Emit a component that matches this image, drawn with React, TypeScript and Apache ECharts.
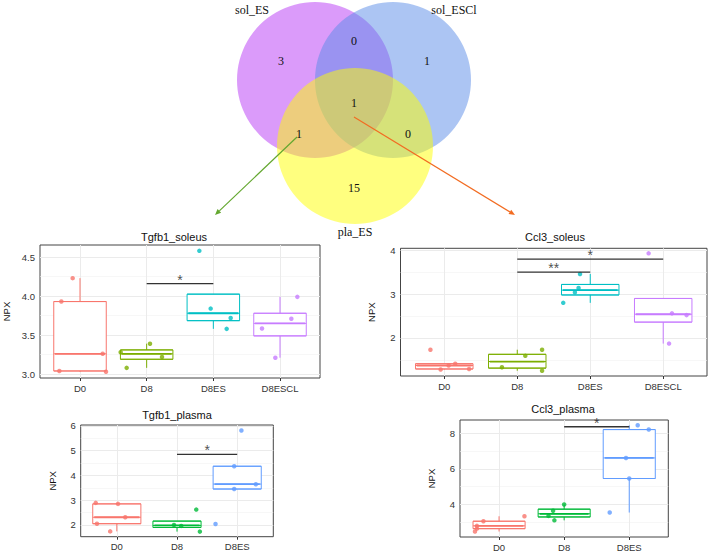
import React, { useEffect, useRef } from 'react';
import * as echarts from 'echarts';

// ---------- Venn data ----------
const VENN_SETS = ['sol_ES', 'sol_ESCl', 'pla_ES'];
// regions: ES only, ES∩ESCl, ESCl only, all three, ES∩pla, ESCl∩pla, pla only
const VENN_COUNTS = ['3', '0', '1', '1', '1', '0', '15'];

// ---------- Box plot data ----------
const CATS4 = ['D0', 'D8', 'D8ES', 'D8ESCL'];
const CATS3 = ['D0', 'D8', 'D8ES'];
const COLORS4 = ['#F8766D', '#7CAE00', '#00BFC4', '#C77CFF'];
const COLORS3 = ['#F8766D', '#00BA38', '#619CFF'];

// [min, Q1, median, Q3, max]
const TGFB1_SOL_BOX = [
  [3.03, 3.04, 3.26, 3.93, 4.23],
  [3.08, 3.19, 3.26, 3.31, 3.39],
  [3.58, 3.685, 3.78, 4.025, 4.025],
  [3.21, 3.49, 3.65, 3.78, 3.99],
];
const TGFB1_SOL_PTS = [
  [4.23, 3.93, 3.26, 3.04, 3.03],
  [3.39, 3.28, 3.22, 3.08],
  [4.58, 3.84, 3.72, 3.58],
  [3.99, 3.71, 3.585, 3.21],
];
const TGFB1_SOL_JIT = [
  [-0.11, -0.28, 0.34, -0.31, 0.39],
  [0.05, -0.39, 0.23, -0.3],
  [-0.21, -0.04, 0.26, 0.2],
  [0.26, 0.17, -0.27, -0.07],
];
const TGFB1_SOL_SIG = [[1, 2, 4.16]];
const TGFB1_SOL_SIG_TXT = ['*'];

const CCL3_SOL_BOX = [
  [1.28, 1.29, 1.37, 1.41, 1.41],
  [1.25, 1.31, 1.46, 1.625, 1.73],
  [2.8, 2.98, 3.09, 3.22, 3.46],
  [1.87, 2.36, 2.54, 2.9, 2.9],
];
const CCL3_SOL_PTS = [
  [1.73, 1.41, 1.37, 1.28, 1.29],
  [1.73, 1.59, 1.33, 1.25],
  [3.46, 3.14, 3.04, 2.8],
  [3.93, 2.56, 2.52, 1.87],
];
const CCL3_SOL_JIT = [
  [-0.19, 0.15, 0.06, -0.05, 0.34],
  [0.34, 0.11, -0.21, 0.34],
  [-0.14, -0.16, -0.21, -0.37],
  [-0.2, 0.12, 0.32, 0.08],
];
const CCL3_SOL_SIG = [[1, 2, 3.5], [1, 3, 3.8]];
const CCL3_SOL_SIG_TXT = ['**', '*'];

const TGFB1_PLA_BOX = [
  [1.74, 2.05, 2.31, 2.85, 2.89],
  [1.73, 1.9, 1.98, 2.155, 2.155],
  [3.45, 3.45, 3.65, 4.37, 4.37],
];
const TGFB1_PLA_PTS = [
  [2.89, 2.85, 2.31, 2.05, 1.74],
  [2.62, 2.0, 1.96, 1.73],
  [5.81, 4.37, 3.64, 3.45, 2.04],
];
const TGFB1_PLA_JIT = [
  [-0.35, 0.02, 0.14, -0.33, -0.11],
  [0.32, -0.05, 0.07, 0.38],
  [0.07, -0.05, 0.31, -0.05, -0.36],
];
const TGFB1_PLA_SIG = [[1, 2, 4.85]];
const TGFB1_PLA_SIG_TXT = ['*'];

const CCL3_PLA_BOX = [
  [2.46, 2.62, 2.78, 3.04, 3.32],
  [3.09, 3.28, 3.46, 3.72, 3.98],
  [3.53, 5.45, 6.61, 8.21, 8.45],
];
const CCL3_PLA_PTS = [
  [3.04, 3.32, 2.78, 2.62, 2.46],
  [3.98, 3.63, 3.34, 3.09],
  [8.45, 8.21, 6.61, 5.45, 3.53],
];
const CCL3_PLA_JIT = [
  [-0.24, 0.39, -0.34, -0.34, -0.37],
  [0, -0.17, -0.24, -0.15],
  [0.13, 0.3, -0.05, 0, -0.3],
];
const CCL3_PLA_SIG = [[1, 2, 8.37]];
const CCL3_PLA_SIG_TXT = ['*'];

// tick values
const TGFB1_SOL_MAJOR = [3, 3.5, 4, 4.5];
const TGFB1_SOL_MINOR = [3.25, 3.75, 4.25];
const CCL3_SOL_MAJOR = [2, 3, 4];
const CCL3_SOL_MINOR = [1.5, 2.5, 3.5];
const TGFB1_PLA_MAJOR = [2, 3, 4, 5, 6];
const TGFB1_PLA_MINOR = [2.5, 3.5, 4.5, 5.5];
const CCL3_PLA_MAJOR = [4, 6, 8];
const CCL3_PLA_MINOR = [3, 5, 7];

const SANS = '"Liberation Sans", Arial, sans-serif';
const SERIF = '"Liberation Serif", "Times New Roman", serif';

const PANELS = [
  { title: 'Tgfb1_soleus', cats: CATS4, colors: COLORS4, box: TGFB1_SOL_BOX, pts: TGFB1_SOL_PTS, jit: TGFB1_SOL_JIT, sig: TGFB1_SOL_SIG, sigTxt: TGFB1_SOL_SIG_TXT, major: TGFB1_SOL_MAJOR, minor: TGFB1_SOL_MINOR, dec: 1,
    layout: { left: 29, top: 245, width: 291, height: 133, yMin: 2.95, yMax: 4.655, nameGap: 17, tx: 174, ty: 237 } },
  { title: 'Ccl3_soleus', cats: CATS4, colors: COLORS4, box: CCL3_SOL_BOX, pts: CCL3_SOL_PTS, jit: CCL3_SOL_JIT, sig: CCL3_SOL_SIG, sigTxt: CCL3_SOL_SIG_TXT, major: CCL3_SOL_MAJOR, minor: CCL3_SOL_MINOR, dec: 0,
    layout: { left: 400.5, top: 248.3, width: 306.5, height: 127.7, yMin: 1.13, yMax: 4.045, nameGap: 12, tx: 555, ty: 237 } },
  { title: 'Tgfb1_plasma', cats: CATS3, colors: COLORS3, box: TGFB1_PLA_BOX, pts: TGFB1_PLA_PTS, jit: TGFB1_PLA_JIT, sig: TGFB1_PLA_SIG, sigTxt: TGFB1_PLA_SIG_TXT, major: TGFB1_PLA_MAJOR, minor: TGFB1_PLA_MINOR, dec: 0,
    layout: { left: 80.7, top: 425, width: 192.6, height: 111.7, yMin: 1.525, yMax: 6.035, nameGap: 11, tx: 177, ty: 415 } },
  { title: 'Ccl3_plasma', cats: CATS3, colors: COLORS3, box: CCL3_PLA_BOX, pts: CCL3_PLA_PTS, jit: CCL3_PLA_JIT, sig: CCL3_PLA_SIG, sigTxt: CCL3_PLA_SIG_TXT, major: CCL3_PLA_MAJOR, minor: CCL3_PLA_MINOR, dec: 0,
    layout: { left: 460, top: 420, width: 208.3, height: 119, yMin: 2.15, yMax: 8.75, nameGap: 12, tx: 563, ty: 409 } },
];

function arrow(x1: number, y1: number, x2: number, y2: number, color: string) {
  const dx = x2 - x1, dy = y2 - y1;
  const len = Math.sqrt(dx * dx + dy * dy);
  const ux = dx / len, uy = dy / len;
  const px = -uy, py = ux;
  const L = 6, W = 2.6;
  const bx = x2 - ux * L, by = y2 - uy * L;
  return [
    { type: 'line', shape: { x1, y1, x2: bx, y2: by }, style: { stroke: color, lineWidth: 1.2 }, z: 20 },
    { type: 'polygon', shape: { points: [[x2, y2], [bx + px * W, by + py * W], [bx - px * W, by - py * W]] }, style: { fill: color }, z: 20 },
  ];
}

function buildOption() {
  const grids: any[] = [];
  const xAxes: any[] = [];
  const yAxes: any[] = [];
  const series: any[] = [];
  const graphics: any[] = [];

  // Venn diagram
  const circles = [
    { cx: 315, cy: 80, r: 78, fill: 'rgba(183,55,245,0.5)' },
    { cx: 393, cy: 80, r: 78, fill: 'rgba(90,140,232,0.5)' },
    { cx: 355, cy: 146, r: 78, fill: 'rgba(255,255,0,0.5)' },
  ];
  circles.forEach((c) => graphics.push({ type: 'circle', shape: { cx: c.cx, cy: c.cy, r: c.r }, style: { fill: c.fill }, z: 1 }));
  const setPos = [[252, 10], [454, 10], [355, 232]];
  VENN_SETS.forEach((s, i) => graphics.push({ type: 'text', x: setPos[i][0], y: setPos[i][1], style: { text: s, align: 'center', verticalAlign: 'middle', fontSize: 12, fontFamily: SERIF, fill: '#111' }, z: 5 }));
  const cntPos = [[281, 61], [354, 41], [427, 61], [354, 103], [299, 134], [408, 134], [354, 188]];
  VENN_COUNTS.forEach((s, i) => graphics.push({ type: 'text', x: cntPos[i][0], y: cntPos[i][1], style: { text: s, align: 'center', verticalAlign: 'middle', fontSize: 12, fontFamily: SERIF, fill: '#111' }, z: 5 }));
  graphics.push(...arrow(297, 137, 215, 215, '#63a72f'));
  graphics.push(...arrow(354, 117, 515, 215, '#f26c22'));

  PANELS.forEach((p, i) => {
    const L = p.layout;
    const n = p.cats.length;
    const idxs = p.cats.map((_, k) => k);
    grids.push({ left: L.left, top: L.top, width: L.width, height: L.height, show: true, borderColor: '#444', borderWidth: 1, backgroundColor: 'transparent' });
    xAxes.push({
      type: 'value', gridIndex: i, min: -0.6, max: n - 0.4,
      axisLine: { show: false }, splitLine: { show: false },
      axisTick: { show: true, length: 3, lineStyle: { color: '#333' }, customValues: idxs },
      axisLabel: { show: true, customValues: idxs, formatter: (v: number) => p.cats[Math.round(v)] ?? '', margin: 5, fontSize: 9.5, color: '#333', fontFamily: SANS },
    });
    yAxes.push({
      type: 'value', gridIndex: i, min: L.yMin, max: L.yMax,
      name: 'NPX', nameLocation: 'middle', nameGap: L.nameGap + 12, nameRotate: 90,
      nameTextStyle: { fontSize: 9.5, color: '#111', fontFamily: SANS },
      axisLine: { show: false }, splitLine: { show: false },
      axisTick: { show: true, length: 3, lineStyle: { color: '#333' }, customValues: p.major },
      axisLabel: { show: true, customValues: p.major, formatter: (v: number) => v.toFixed(p.dec), margin: 5, fontSize: 9.5, color: '#333', fontFamily: SANS },
    });

    // grid lines
    const gl: any[] = [];
    p.minor.forEach((v) => gl.push({ yAxis: v, lineStyle: { color: '#f2f2f2', width: 0.6 } }));
    p.major.forEach((v) => gl.push({ yAxis: v, lineStyle: { color: '#ebebeb', width: 1 } }));
    idxs.forEach((k) => gl.push({ xAxis: k, lineStyle: { color: '#ebebeb', width: 1 } }));

    // boxes
    series.push({
      type: 'boxplot', xAxisIndex: i, yAxisIndex: i, z: 10, silent: true,
      boxWidth: ['75%', '75%'],
      data: p.box.map((b, k) => ({ value: [k, b[1], b[1], b[2], b[3], b[3]], itemStyle: { color: '#fff', borderColor: p.colors[k], borderWidth: 1 } })),
    });
    // whiskers + median
    series.push({
      type: 'custom', xAxisIndex: i, yAxisIndex: i, z: 11, silent: true,
      encode: { x: 0, y: [1, 2, 3, 4, 5] },
      data: p.box.map((b, k) => [k, ...b]),
      renderItem: (params: any, api: any) => {
        const k = api.value(0);
        const c = p.colors[params.dataIndex];
        const pMin = api.coord([k, api.value(1)]);
        const pQ1 = api.coord([k, api.value(2)]);
        const pMd = api.coord([k, api.value(3)]);
        const pQ3 = api.coord([k, api.value(4)]);
        const pMax = api.coord([k, api.value(5)]);
        const half = api.size([1, 0])[0] * 0.375;
        return {
          type: 'group',
          children: [
            { type: 'line', shape: { x1: pMin[0], y1: pMin[1], x2: pQ1[0], y2: pQ1[1] }, style: { stroke: c, lineWidth: 1 } },
            { type: 'line', shape: { x1: pQ3[0], y1: pQ3[1], x2: pMax[0], y2: pMax[1] }, style: { stroke: c, lineWidth: 1 } },
            { type: 'line', shape: { x1: pMd[0] - half, y1: pMd[1], x2: pMd[0] + half, y2: pMd[1] }, style: { stroke: c, lineWidth: 1.8 } },
          ],
        };
      },
    });
    // jittered points
    const pts: any[] = [];
    p.pts.forEach((arr, k) => arr.forEach((v, j) => pts.push({ value: [k + p.jit[k][j], v], itemStyle: { color: p.colors[k] } })));
    series.push({
      type: 'scatter', xAxisIndex: i, yAxisIndex: i, z: 12, silent: true,
      symbolSize: 4.5, data: pts,
      markLine: { silent: true, symbol: ['none', 'none'], label: { show: false }, lineStyle: { type: 'solid' }, data: gl, animation: false },
    });
    // significance bars
    p.sig.forEach((s, j) => {
      series.push({
        type: 'line', xAxisIndex: i, yAxisIndex: i, z: 13, silent: true, symbol: 'none',
        lineStyle: { color: '#333', width: 1.3 },
        data: [[s[0], s[2]], [s[1], s[2]]],
      });
      series.push({
        type: 'scatter', xAxisIndex: i, yAxisIndex: i, z: 13, silent: true,
        symbolSize: 1, itemStyle: { color: 'rgba(0,0,0,0)' },
        data: [[(s[0] + s[1]) / 2, s[2]]],
        label: { show: true, formatter: p.sigTxt[j], position: 'top', distance: -3.5, fontSize: 14, color: '#222', fontFamily: SANS },
      });
    });

    graphics.push({ type: 'text', x: L.tx, y: L.ty, style: { text: p.title, align: 'center', verticalAlign: 'middle', fontSize: 11, fontFamily: SANS, fill: '#111' }, z: 5 });
  });

  return {
    animation: false,
    backgroundColor: '#fff',
    grid: grids,
    xAxis: xAxes,
    yAxis: yAxes,
    series,
    graphic: graphics,
  };
}

export default function App() {
  const ref = useRef<HTMLDivElement>(null);
  useEffect(() => {
    document.body.style.margin = '0';
    const chart = echarts.init(ref.current!, null, { renderer: 'svg' });
    chart.setOption(buildOption() as any);
    return () => chart.dispose();
  }, []);
  return <div ref={ref} style={{ width: 709, height: 552, position: 'absolute', left: 0, top: 0 }} />;
}
